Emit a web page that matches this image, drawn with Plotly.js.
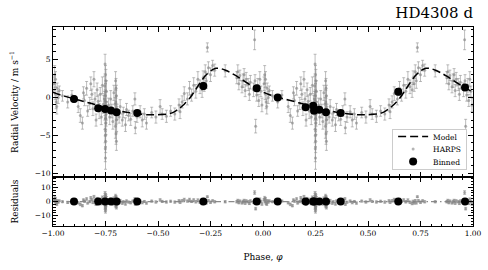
<!DOCTYPE html>
<html>
<head>
<meta charset="utf-8">
<script src="https://cdn.plot.ly/plotly-3.0.1.min.js"></script>
<style>html,body{margin:0;padding:0;background:#fff;}#chart{width:488px;height:270px;}</style>
</head>
<body>
<div id="chart"></div>
<script>
// HARPS data, folded phase in [0,1]; plotted over two periods
const phase = [0.005,0.010,0.012,0.015,0.020,0.025,0.008,0.018,0.030,
0.045,0.070,0.090,
0.120,0.130,0.140,0.145,0.150,0.160,0.165,0.175,0.180,0.185,0.190,0.195,0.200,
0.205,0.210,0.215,0.220,0.225,0.230,0.235,0.240,
0.248,0.250,0.252,0.246,0.254,0.250,0.249,0.251,0.247,0.253,0.250,0.252,0.248,0.250,0.251,0.249,0.250,0.255,0.245,
0.265,0.270,0.275,0.280,0.285,0.290,
0.298,0.300,0.302,0.299,0.301,0.300,0.303,0.297,0.300,0.302,0.305,0.295,
0.315,0.320,0.330,0.335,0.345,0.350,0.360,0.370,0.380,0.390,0.392,0.400,0.415,0.425,0.435,0.445,
0.470,0.490,0.510,0.520,0.540,0.560,0.580,0.600,0.605,
0.615,0.625,0.640,0.650,0.660,0.670,0.680,0.690,0.700,
0.710,0.715,0.720,0.725,0.730,0.735,0.740,0.750,0.760,0.770,0.820,
0.875,0.880,0.885,0.890,0.900,0.905,0.910,0.915,0.920,0.930,0.935,0.940,
0.955,0.960,0.962,0.965,0.970,0.975,0.980,0.985,0.990,0.995];
const rv = [1.8,0.5,2.4,-0.6,1.2,0.0,3.0,-1.2,0.9,
0.2,-0.6,0.3,
-1.2,-2.4,-3.4,0.6,-0.4,1.2,-1.8,-0.8,1.8,0.4,-1.5,2.4,-0.2,
-3.0,1.0,-0.5,-1.8,0.4,-2.6,1.6,-0.9,
4.4,3.0,2.2,1.5,0.8,0.2,-0.5,-1.0,-1.6,-2.2,-2.8,-3.4,-4.2,-5.0,-5.8,-6.8,-8.0,-1.8,-0.2,
-1.0,-2.6,-0.2,-1.8,-3.2,0.6,
2.2,1.2,0.2,-0.6,-1.4,-2.2,-3.0,-3.8,-4.8,-5.8,-1.9,-0.9,
-2.6,-1.2,-3.0,-2.0,-3.6,-1.6,-2.4,-2.9,-1.8,-0.2,-4.0,-2.6,-1.9,-3.0,-2.2,-3.4,
-2.0,-2.6,-1.2,-2.2,-2.5,-1.8,-2.2,-1.0,-1.9,
-0.6,0.5,-0.2,1.2,0.3,1.6,0.8,2.4,1.4,
1.0,2.6,1.8,3.4,2.2,6.6,3.9,3.0,4.2,3.6,3.5,
2.6,3.4,1.8,2.9,1.4,2.2,3.0,0.9,2.4,1.7,0.4,2.0,
1.0,7.6,2.2,-3.8,0.3,1.6,-0.4,2.4,0.8,-1.0];
const rvErr = [0.9,0.8,1.0,0.9,0.7,0.8,1.2,1.0,0.6,
0.7,0.8,0.6,
0.8,0.9,0.8,0.8,0.7,0.9,0.7,0.8,0.9,0.7,0.9,1.0,0.8,
0.8,0.9,0.8,1.0,0.9,1.0,1.1,1.2,
1.3,1.2,1.5,1.3,1.4,1.6,1.5,1.8,1.4,1.6,1.7,1.5,1.8,1.6,1.5,1.7,1.5,1.2,1.0,
0.9,1.0,1.1,0.9,1.0,1.0,
1.2,1.3,1.4,1.5,1.6,1.4,1.5,1.6,1.4,1.2,1.0,0.9,
0.8,0.9,0.8,0.7,0.9,0.8,0.7,0.8,0.7,0.8,0.8,0.7,0.8,0.9,0.7,0.8,
0.7,0.8,0.9,0.7,0.8,0.7,0.8,0.8,0.9,
0.8,0.9,0.8,0.9,0.8,1.0,0.9,1.0,0.9,
1.0,0.9,1.0,0.9,1.0,0.6,0.8,0.9,0.7,0.8,0.8,
0.8,0.9,0.8,0.7,0.8,0.9,0.8,0.8,0.9,0.8,0.8,0.9,
0.9,1.3,0.8,0.9,0.8,0.9,0.8,1.0,0.7,0.9];
const resid = [1.2,-0.1,1.8,-1.2,0.6,-0.4,2.4,-1.8,0.5,
-0.1,-0.6,0.4,
-0.9,-2.0,-2.9,1.1,0.15,1.8,-1.1,-0.05,2.6,1.2,-0.6,3.3,0.75,
-2.0,2.0,0.55,-0.7,1.5,-1.4,2.8,0.4,
5.75,4.35,3.55,2.85,2.15,1.55,0.85,0.35,-0.25,-0.85,-1.45,-2.05,-2.85,-3.65,-4.45,-5.45,-6.65,-0.45,1.15,
0.45,-1.1,1.3,-0.25,-1.6,2.25,
3.9,2.9,1.9,1.1,0.3,-0.5,-1.3,-2.1,-3.1,-4.1,-0.2,0.8,
-0.8,0.6,-1.15,-0.1,-1.65,0.35,-0.4,-0.85,0.3,1.9,-1.9,-0.45,0.3,-0.75,0.05,-1.1,
0.3,-0.3,1.1,0.1,-0.3,0.25,-0.4,0.5,-0.5,
0.55,1.4,0.3,1.4,0.1,1.0,-0.2,0.95,-0.5,
-1.3,0.1,-0.9,0.5,-0.85,3.4,0.6,-0.5,0.55,-0.2,-0.15,
-0.2,0.7,-0.8,0.4,-0.95,-0.07,0.8,-1.2,0.4,-0.15,-1.35,0.35,
-0.4,6.3,0.9,-5.0,-0.85,0.55,-1.35,1.55,0.0,-1.75];

// Keplerian model
const modelPhase = [0,0.025,0.05,0.075,0.1,0.15,0.2,0.25,0.3,0.35,0.4,0.45,0.5,0.55,0.575,0.6,0.625,0.65,0.675,0.7,0.725,0.75,0.775,0.8,0.825,0.85,0.875,0.9,0.925,0.95,0.975,1.0];
const modelRV = [0.7,0.42,0.2,0.0,-0.18,-0.56,-0.95,-1.35,-1.7,-1.95,-2.15,-2.3,-2.3,-2.18,-1.95,-1.5,-0.9,-0.15,0.85,1.9,2.85,3.5,3.85,3.8,3.55,3.2,2.8,2.35,1.9,1.45,1.05,0.7];

// Binned points (plotted phase)
const binPhase = [-0.9,-0.785,-0.752,-0.724,-0.697,-0.599,-0.284,-0.03,0.07,0.203,0.239,0.243,0.268,0.3,0.37,0.644,0.962];
const binRV = [-0.2,-1.42,-1.55,-1.73,-1.95,-2.08,1.5,1.2,0.0,-1.29,-1.12,-1.78,-1.64,-1.95,-2.08,0.76,1.29];
const binErr = [0.35,0.3,0.25,0.25,0.3,0.3,0.4,0.35,0.35,0.3,0.25,0.25,0.25,0.3,0.3,0.4,0.35];
const binResid = [0,0,0,0,0,0,0,0,0,0,0,0,0,0,0,0,0];

const xTicks = [-1.00,-0.75,-0.50,-0.25,0.00,0.25,0.50,0.75,1.00];

const fold = a => a.map(p => p - 1).concat(a);
const twice = a => a.concat(a);

const gray = 'rgba(130,130,130,0.6)';
const errGray = 'rgba(145,145,145,0.6)';
const traces = [
  {type:'scatter', mode:'markers', name:'HARPS', legendrank:2, x:fold(phase), y:twice(rv), xaxis:'x', yaxis:'y',
   marker:{size:3, color:gray},
   error_y:{type:'data', array:twice(rvErr), visible:true, color:errGray, thickness:1, width:1.5}},
  {type:'scatter', mode:'lines', name:'Model', legendrank:1, x:fold(modelPhase), y:twice(modelRV), xaxis:'x', yaxis:'y',
   line:{color:'black', width:1.5, dash:'8px,4px', shape:'spline', smoothing:0.6}},
  {type:'scatter', mode:'markers', name:'Binned', legendrank:3, x:binPhase, y:binRV, xaxis:'x', yaxis:'y',
   marker:{size:8, color:'black'},
   error_y:{type:'data', array:binErr, visible:true, color:'black', thickness:1.2, width:2}},
  {type:'scatter', mode:'lines', showlegend:false, x:[-1,1], y:[0,0], xaxis:'x2', yaxis:'y2',
   line:{color:'#8a8a8a', width:1.2, dash:'6px,3px,1.5px,3px'}},
  {type:'scatter', mode:'markers', showlegend:false, x:fold(phase), y:twice(resid), xaxis:'x2', yaxis:'y2',
   marker:{size:3, color:gray},
   error_y:{type:'data', array:twice(rvErr), visible:true, color:errGray, thickness:1, width:1.5}},
  {type:'scatter', mode:'markers', showlegend:false, x:binPhase, y:binResid, xaxis:'x2', yaxis:'y2',
   marker:{size:8, color:'black'},
   error_y:{type:'data', array:binErr, visible:true, color:'black', thickness:1.2, width:2}}
];

const axCommon = {showline:true, linecolor:'black', linewidth:1, mirror:'allticks', ticks:'inside', ticklen:5,
  tickwidth:1, tickcolor:'black', showgrid:false, zeroline:false, tickfont:{size:7.5}};

const layout = {
  width:488, height:270,
  margin:{l:53, r:15, t:27, b:44},
  paper_bgcolor:'white', plot_bgcolor:'white',
  font:{family:'DejaVu Serif', size:8, color:'black'},
  title:{text:'HD4308 d', font:{size:15, family:'DejaVu Serif'}, xref:'paper', x:1, xanchor:'right', yref:'container', y:0.953, yanchor:'middle'},
  showlegend:true,
  legend:{x:0.986, y:0.286, xanchor:'right', yanchor:'bottom', bordercolor:'#cccccc', borderwidth:1, bgcolor:'white',
    font:{size:7.5}, tracegroupgap:0, itemwidth:30},
  xaxis:Object.assign({}, axCommon, {domain:[0,1], anchor:'y', range:[-1,1], tickmode:'array', tickvals:xTicks, showticklabels:false,
    minor:{dtick:0.05, tick0:-1, ticks:'inside', ticklen:2.5, tickcolor:'black', showgrid:false}}),
  xaxis2:Object.assign({}, axCommon, {domain:[0,1], anchor:'y2', range:[-1,1], tickmode:'array', tickvals:xTicks,
    ticktext:xTicks.map(v => (v < 0 ? '\u2212' : '') + Math.abs(v).toFixed(2)),
    minor:{dtick:0.05, tick0:-1, ticks:'inside', ticklen:2.5, tickcolor:'black', showgrid:false},
    title:{text:'Phase, <i>\u03c6</i>', font:{size:9}, standoff:16}}),
  yaxis:Object.assign({}, axCommon, {domain:[0.247,1], anchor:'x', range:[-10.5,9.3], dtick:5, tick0:0,
    minor:{dtick:1, ticks:'inside', ticklen:2.5, tickcolor:'black', showgrid:false},
    title:{text:'Radial Velocity / m s<sup>\u22121</sup>', font:{size:9}, standoff:14}}),
  yaxis2:Object.assign({}, axCommon, {domain:[0,0.246], anchor:'x2', range:[-17.2,17.2], dtick:10, tick0:0,
    minor:{dtick:2, ticks:'inside', ticklen:2.5, tickcolor:'black', showgrid:false},
    title:{text:'Residuals', font:{size:9}, standoff:14}})
};

Plotly.newPlot('chart', traces, layout, {displayModeBar:false, staticPlot:true}).then(gd => {
  // compact the legend rows (Plotly enforces a 19px minimum row height)
  const lg = gd.querySelector('g.legend');
  if (!lg) return;
  const items = Array.from(lg.querySelectorAll('g.traces'));
  const ys = items.map(t => {
    const m = /translate\(\s*([-\d.e]+)[ ,]+([-\d.e]+)/.exec(t.getAttribute('transform') || '');
    return m ? [parseFloat(m[1]), parseFloat(m[2])] : [0, 0];
  });
  const order = ys.map((v, i) => i).sort((a, b) => ys[a][1] - ys[b][1]);
  const rowH = 12.5, pad = 7.5;
  order.forEach((idx, k) => {
    items[idx].setAttribute('transform', 'translate(' + ys[idx][0] + ',' + (pad + rowH * k) + ')');
  });
  const newH = pad * 2 + rowH * (items.length - 1);
  const bg = lg.querySelector('rect.bg');
  if (bg) bg.setAttribute('height', newH);
  const m = /translate\(\s*([-\d.e]+)[ ,]+([-\d.e]+)/.exec(lg.getAttribute('transform') || '');
  if (m) {
    const fullLayout = gd._fullLayout;
    const bottomPx = fullLayout.margin.t + fullLayout._size.h * (1 - 0.286);
    lg.setAttribute('transform', 'translate(' + m[1] + ',' + (bottomPx - newH) + ')');
  }
});
</script>
</body>
</html>
